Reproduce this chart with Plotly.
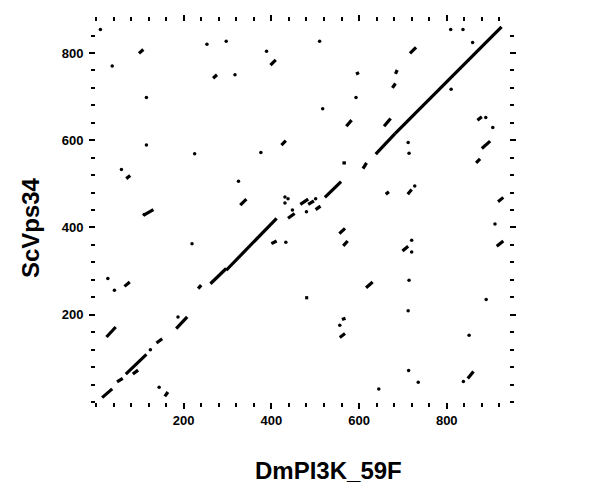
import plotly.graph_objects as go

# ---- data (residue coordinates: x = DmPI3K_59F, y = ScVps34) ----
seg_x0 = [14, 48, 68, 84, 138, 183, 233, 261, 297, 438, 466, 484, 501, 522, 609, 638, 682,
          98, 398, 267, 423, 69, 329, 108, 716, 593, 676, 683, 571, 657, 870, 880, 867, 562,
          661, 711, 917, 555, 564, 699, 914, 616, 477, 561, 556, 848, 24, 65, 400, 157]
seg_x1 = [37, 61, 115, 96, 151, 208, 240, 297, 412, 453, 484, 497, 512, 559, 617, 682, 925,
          108, 410, 276, 433, 78, 343, 131, 730, 600, 683, 687, 583, 672, 880, 899, 876, 570,
          668, 720, 929, 568, 574, 712, 929, 631, 484, 569, 568, 861, 45, 77, 412, 164]
seg_y0 = [10, 46, 64, 64, 135, 168, 260, 271, 302, 421, 453, 453, 441, 469, 535, 568, 615,
          799, 772, 742, 589, 512, 451, 428, 799, 752, 720, 752, 632, 632, 646, 581, 548, 548,
          476, 476, 459, 386, 358, 346, 357, 262, 239, 189, 148, 54, 149, 265, 363, 13]
seg_y1 = [30, 54, 109, 73, 145, 195, 268, 306, 421, 432, 465, 461, 449, 505, 548, 615, 860,
          808, 784, 750, 599, 519, 465, 441, 813, 755, 730, 761, 646, 650, 654, 598, 557, 548,
          482, 487, 469, 398, 369, 357, 369, 275, 239, 192, 157, 70, 172, 275, 369, 23]

dot_x = [10, 37, 253, 297, 389, 317, 115, 115, 225, 376, 58, 325, 809, 837, 859, 510, 810,
         593, 517, 889, 905, 712, 714, 727, 431, 438, 501, 480, 448, 433, 720, 720, 910, 714,
         890, 712, 556, 851, 838, 713, 735, 645, 187, 124, 27, 42, 219, 144, 110, 431]
dot_y = [854, 770, 820, 827, 804, 750, 698, 589, 569, 572, 533, 506, 854, 854, 824, 827, 717,
         698, 672, 652, 629, 595, 570, 495, 456, 466, 466, 436, 440, 366, 371, 344, 408, 279,
         235, 209, 176, 153, 47, 72, 45, 30, 195, 120, 283, 256, 363, 34, 430, 470]

x_major = [200, 400, 600, 800]
y_major = [200, 400, 600, 800]
x_title = "DmPI3K_59F"
y_title = "ScVps34"

# ---- build line segments separated by gaps ----
lx, ly = [], []
for a, b, c, d in zip(seg_x0, seg_x1, seg_y0, seg_y1):
    lx += [a, b, None]
    ly += [c, d, None]

fig = go.Figure()
fig.add_trace(go.Scatter(x=lx, y=ly, mode="lines",
                         line=dict(color="black", width=3.2), hoverinfo="skip"))
fig.add_trace(go.Scatter(x=dot_x, y=dot_y, mode="markers",
                         marker=dict(color="black", size=3.5, line=dict(width=0)),
                         hoverinfo="skip"))

font_family = "Liberation Sans, Arial, Helvetica, sans-serif"
axis_common = dict(showgrid=False, zeroline=False, showline=False,
                   ticks="outside", ticklen=6, tickwidth=2, tickcolor="black",
                   mirror="ticks",
                   minor=dict(dtick=40, tick0=0, ticks="outside", ticklen=4,
                              tickwidth=2, tickcolor="black", showgrid=False),
                   tickfont=dict(family=font_family, size=13, color="black", weight="bold"))

fig.update_xaxes(range=[0, 942], tickvals=x_major, **axis_common)
fig.update_yaxes(range=[0, 871], tickvals=y_major, ticklabelstandoff=3, **axis_common)

fig.update_layout(
    width=599, height=487,
    margin=dict(l=88, r=98, t=14, b=93),
    paper_bgcolor="white", plot_bgcolor="white",
    showlegend=False,
    font=dict(family=font_family, color="black"),
    annotations=[
        dict(text=x_title, xref="paper", yref="paper", x=0.562, y=-0.179,
             xanchor="center", yanchor="middle", showarrow=False,
             font=dict(family=font_family, size=24, color="black", weight="bold")),
        dict(text=y_title, xref="paper", yref="paper", x=-0.16, y=0.46,
             xanchor="center", yanchor="middle", showarrow=False, textangle=-90,
             font=dict(family=font_family, size=24, color="black", weight="bold")),
    ],
)

fig.write_html("out.html")
